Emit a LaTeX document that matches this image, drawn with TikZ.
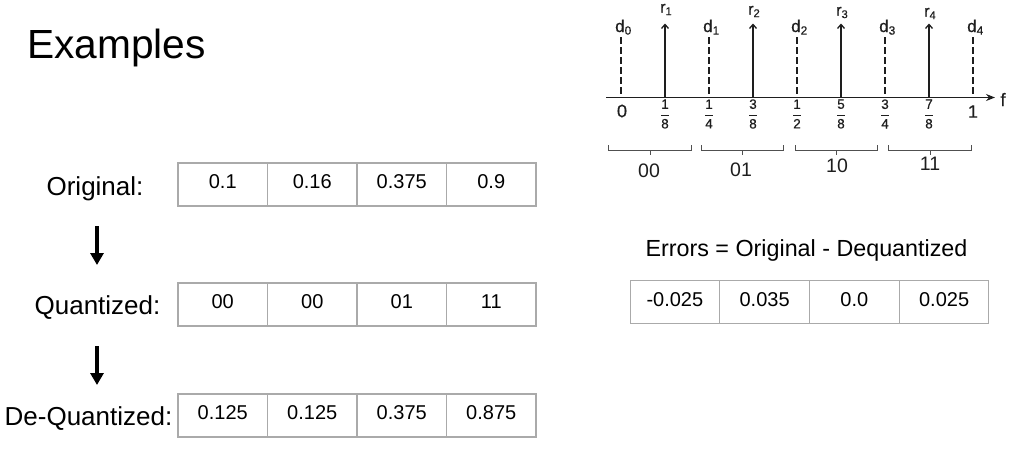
\documentclass[tikz,border=0pt]{standalone}
\usepackage{fontspec}
\setmainfont{Liberation Sans}
\newfontfamily\scanfont[FakeBold=0.6]{Liberation Sans}
\usetikzlibrary{arrows.meta}
\definecolor{cellgray}{RGB}{170,170,170}
\definecolor{ink}{RGB}{30,30,30}
\definecolor{bracegray}{RGB}{80,80,80}
\newcommand{\fsz}[1]{\fontsize{#1}{#1}\selectfont}
\newcommand{\fr}[2]{$\displaystyle\frac{\mbox{#1}}{\mbox{#2}}$}
\begin{document}
\begin{tikzpicture}[x=1pt,y=-1pt,
  cell/.style={draw=cellgray, line width=1.2pt, minimum width=89.5pt, minimum height=43pt,
    inner sep=0pt, font=\fsz{20}, text height=14.3pt, text depth=6pt},
  rowlabel/.style={anchor=base, font=\fsz{26}, inner sep=0pt},
  flow/.style={line width=4.2pt, -{Triangle[width=13pt,length=12pt]}},
  dline/.style={ink, line width=1.2pt, dash pattern=on 7pt off 3pt},
  rline/.style={ink, line width=1.3pt, -{Straight Barb[width=7pt,length=4pt,line width=1.3pt]}},
  dlab/.style={ink, anchor=base west, font=\scanfont\fsz{17}, inner sep=0pt},
  rlab/.style={ink, anchor=base west, font=\scanfont\fsz{16}, inner sep=0pt},
  ticklab/.style={ink, font=\scanfont\fsz{13.5}, inner sep=0pt},
  endlab/.style={ink, font=\scanfont\fsz{18}, inner sep=0pt},
  bracket/.style={bracegray, line width=0.9pt},
  codelab/.style={ink, font=\fsz{19.5}, inner sep=0pt}
]
\useasboundingbox (0,0) rectangle (1020,453);

% Title
\node[anchor=base west, font=\fsz{40.7}, inner sep=0pt] (title) at (27,58) {Examples};

% Row labels
\node[rowlabel] (lorig) at (95,195) {Original:};
\node[rowlabel] (lquant) at (97.5,314) {Quantized:};
\node[rowlabel] (ldeq) at (88.5,425) {De-Quantized:};

% Tables
\foreach \v [count=\i] in {0.1,0.16,0.375,0.9}
  \node[cell] (o\i) at ({178+89.5*(\i-0.5)},184.5) {\v};
\foreach \v [count=\i] in {00,00,01,11}
  \node[cell] (q\i) at ({178+89.5*(\i-0.5)},304.5) {\v};
\foreach \v [count=\i] in {0.125,0.125,0.375,0.875}
  \node[cell] (r\i) at ({178+89.5*(\i-0.5)},415.5) {\v};

% Flow arrows
\coordinate (f1s) at (97,226);
\coordinate (f1e) at (97,265);
\coordinate (f2s) at (97,346);
\coordinate (f2e) at (97,385);
\draw[flow] (f1s) -- (f1e);
\draw[flow] (f2s) -- (f2e);

% Errors
\node[anchor=base, font=\fsz{23.3}, inner sep=0pt] (etitle) at (806.5,256) {Errors = Original - Dequantized};
\foreach \v [count=\i] in {-0.025,0.035,0.0,0.025}
  \node[cell] (e\i) at ({630+89.75*(\i-0.5)},302) {\v};

% Axis
\coordinate (ax0) at (606,97.5);
\coordinate (ax1) at (995,97.5);
\draw[ink, line width=1.3pt, -{Stealth[width=7pt,length=9pt]}] (ax0) -- (ax1);
\node[endlab] (flab) at (1003,99.5) {f};

% Decision levels
\foreach \k in {0,...,4} {
  \pgfmathsetmacro\xx{621+88*\k}
  \coordinate (dt\k) at (\xx,37);
  \coordinate (db\k) at (\xx,97.5);
  \draw[dline] (dt\k) -- (db\k);
  \node[dlab] (dl\k) at (\xx-6,32) {d\textsubscript{\k}};
}
% Reconstruction levels
\foreach \k/\yb in {1/12.5,2/14.5,3/15.5,4/16.5} {
  \pgfmathsetmacro\xx{665+88*(\k-1)}
  \coordinate (rb\k) at (\xx,97.5);
  \coordinate (rt\k) at (\xx,23.5);
  \draw[rline] (rb\k) -- (rt\k);
  \node[rlab] (rl\k) at (\xx-5,\yb) {r\textsubscript{\k}};
}

% Tick labels
\node[endlab] (t0) at (622,111) {0};
\node[ticklab] (t1) at (665,114) {\fr{1}{8}};
\node[ticklab] (t2) at (709,114) {\fr{1}{4}};
\node[ticklab] (t3) at (753,114) {\fr{3}{8}};
\node[ticklab] (t4) at (797,114) {\fr{1}{2}};
\node[ticklab] (t5) at (841,114) {\fr{5}{8}};
\node[ticklab] (t6) at (885,114) {\fr{3}{4}};
\node[ticklab] (t7) at (929,114) {\fr{7}{8}};
\node[endlab] (t8) at (973,111.5) {1};

% Brackets
\foreach \a/\b/\m in {608/691/650, 701/783/742, 795/877/836, 888/971/930} {
  \draw[bracket] (\a,145) -- (\a,150.5) -- (\b,150.5) -- (\b,145);
  \draw[bracket] (\m,150.5) -- (\m,155);
}
\node[codelab] (c1) at (649,171) {00};
\node[codelab] (c2) at (741,169.5) {01};
\node[codelab] (c3) at (837,166) {10};
\node[codelab] (c4) at (930,163.5) {11};
\end{tikzpicture}
\end{document}
